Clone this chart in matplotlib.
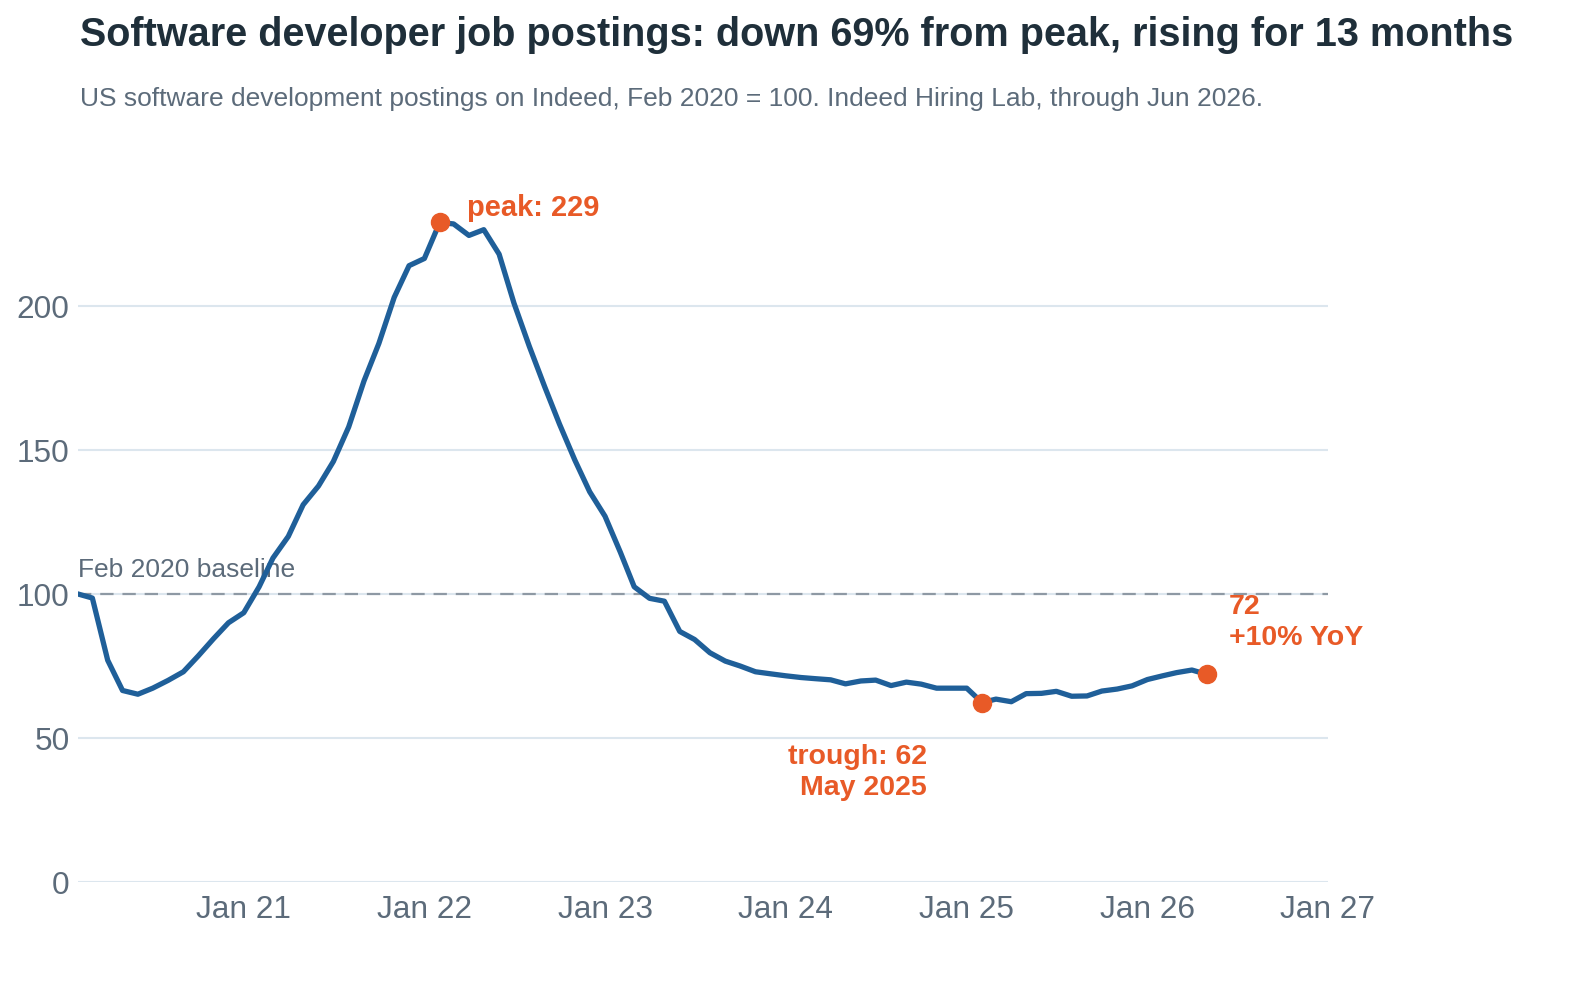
import matplotlib
matplotlib.use('Agg')
import matplotlib.pyplot as plt
import pandas as pd

plt.rcParams['font.family'] = ['Liberation Sans', 'DejaVu Sans']

# monthly index, Feb 2020 = 100
months = pd.date_range('2020-02-01', periods=76, freq='MS')
postings = [
    100, 98.6, 77, 66.5, 65.2, 67.3, 70, 73, 78.5, 84.5, 90, 93.5,
    102.5, 112.5, 120, 131, 137.5, 146, 158, 174, 187, 203, 214, 216.5,
    229, 228.5, 224.5, 226.5, 218, 201, 186, 172, 159, 146.5, 135.5, 127,
    114.5, 102.5, 98.5, 97.5, 87, 84.2, 79.6, 76.7, 75, 73, 72.3, 71.6,
    71, 70.6, 70.2, 68.8, 69.8, 70.1, 68.2, 69.4, 68.7, 67.3, 67.3, 67.3,
    62.3, 63.5, 62.6, 65.4, 65.5, 66.2, 64.5, 64.6, 66.3, 67, 68.1, 70.3,
    71.6, 72.7, 73.6, 72.1,
]
peak_idx = 24
trough_idx = 60
last_idx = len(postings) - 1

year_ticks = pd.date_range('2021-01-01', '2027-01-01', freq='YS')
year_labels = ['Jan 21', 'Jan 22', 'Jan 23', 'Jan 24', 'Jan 25', 'Jan 26', 'Jan 27']
y_ticks = [0, 50, 100, 150, 200]

BLUE = '#1f5f99'
ORANGE = '#e85a27'
GREY = '#5c6b7a'
GRID = '#dce6ee'

fig = plt.figure(figsize=(15.86, 9.82), dpi=100)
ax = fig.add_axes([78 / 1586, 100 / 982, 1250 / 1586, 720 / 982])

ax.set_xlim(pd.Timestamp('2020-02-01'), pd.Timestamp('2027-01-01'))
ax.set_ylim(0, 250)

for y in y_ticks:
    ax.axhline(y, color=GRID, lw=1.5, zorder=0)
ax.axhline(100, color='#8e99a4', lw=1.6, ls=(0, (6, 4)), zorder=1)
ax.text(pd.Timestamp('2020-02-01'), 104, 'Feb 2020 baseline', color=GREY,
        fontsize=19, ha='left', va='bottom')

ax.plot(months, postings, color=BLUE, lw=3.8, solid_joinstyle='round', zorder=3)

for i in (peak_idx, trough_idx, last_idx):
    ax.plot(months[i], postings[i], 'o', color=ORANGE, ms=13, zorder=4)

ax.annotate('peak: 229', (months[peak_idx], postings[peak_idx]),
            xytext=(27, 14), textcoords='offset pixels', color=ORANGE,
            fontsize=21, fontweight='bold', ha='left', va='center')
ax.annotate('trough: 62\nMay 2025', (months[trough_idx], postings[trough_idx]),
            xytext=(-55, -41), textcoords='offset pixels', color=ORANGE,
            fontsize=20.5, fontweight='bold', ha='right', va='top',
            multialignment='right', linespacing=1.28)
ax.annotate('72\n+10% YoY', (months[last_idx], postings[last_idx]),
            xytext=(22, 52), textcoords='offset pixels', color=ORANGE,
            fontsize=20.5, fontweight='bold', ha='left', va='center',
            linespacing=1.28)

ax.set_xticks(year_ticks)
ax.set_xticklabels(year_labels)
ax.set_yticks(y_ticks)
ax.tick_params(length=0, labelsize=22.8, labelcolor=GREY)
ax.tick_params(axis='x', pad=9)
ax.tick_params(axis='y', pad=6)
for s in ax.spines.values():
    s.set_visible(False)

fig.text(80 / 1586, 1 - 35 / 982, 'Software developer job postings: down 69% from peak, rising for 13 months',
         fontsize=28.5, fontweight='bold', color='#1f2f3a', ha='left', va='center')
fig.text(80 / 1586, 1 - 99 / 982, 'US software development postings on Indeed, Feb 2020 = 100. Indeed Hiring Lab, through Jun 2026.',
         fontsize=19, color=GREY, ha='left', va='center')

fig.savefig('out.png', dpi=100, facecolor='white')
